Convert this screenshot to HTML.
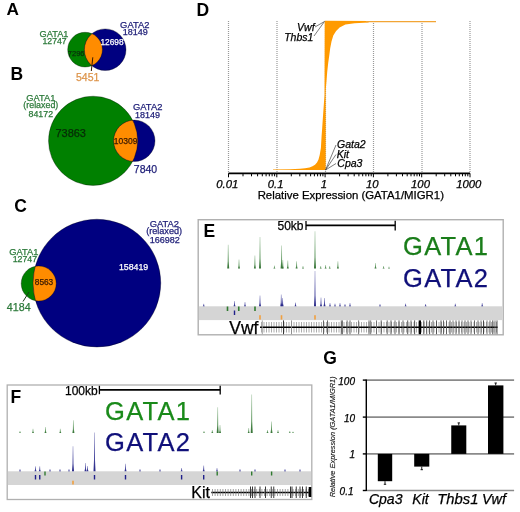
<!DOCTYPE html>
<html><head><meta charset="utf-8"><style>
html,body{margin:0;padding:0;background:#fff;}
svg{display:block;font-family:"Liberation Sans", sans-serif;will-change:transform;filter:blur(0.3px);}
</style></head><body>
<svg width="520" height="512" viewBox="0 0 520 512">
<rect width="520" height="512" fill="#fff"/>
<text x="6.6" y="15.1" font-size="17.2" fill="#000" text-anchor="start" font-weight="bold" font-style="normal" >A</text>
<text x="54.0" y="36.9" font-size="9.2" fill="#2c7a3a" text-anchor="middle" font-weight="normal" font-style="normal" stroke="#2c7a3a" stroke-width="0.25" >GATA1</text>
<text x="54.6" y="44.3" font-size="8.7" fill="#2c7a3a" text-anchor="middle" font-weight="normal" font-style="normal" stroke="#2c7a3a" stroke-width="0.25" >12747</text>
<text x="134.8" y="27.6" font-size="9.4" fill="#22227a" text-anchor="middle" font-weight="normal" font-style="normal" stroke="#22227a" stroke-width="0.25" >GATA2</text>
<text x="135.2" y="34.6" font-size="9" fill="#22227a" text-anchor="middle" font-weight="normal" font-style="normal" stroke="#22227a" stroke-width="0.25" >18149</text>
<defs>
<clipPath id="cA"><circle cx="85.05" cy="49.65" r="17.35"/></clipPath>
<clipPath id="cB"><circle cx="93.1" cy="140.8" r="44.6"/></clipPath>
<clipPath id="cC"><circle cx="38.7" cy="283.5" r="17.5"/></clipPath>
</defs>
<circle cx="85.05" cy="49.65" r="17.35" fill="#008000" />
<text x="76.2" y="55.6" font-size="7.5" fill="#0a300a" text-anchor="middle" font-weight="normal" font-style="normal" stroke="#0a300a" stroke-width="0.25" >7296</text>
<circle cx="105.2" cy="49.7" r="20.8" fill="#000080" />
<circle cx="105.2" cy="49.7" r="20.8" fill="#ff8c00" clip-path="url(#cA)"/>
<circle cx="85.05" cy="49.65" r="17.35" fill="none" stroke="#000" stroke-opacity="0.4" stroke-width="0.8"/>
<circle cx="105.2" cy="49.7" r="20.8" fill="none" stroke="#000" stroke-opacity="0.4" stroke-width="0.8"/>
<text x="112" y="45.2" font-size="8.3" fill="#fff" text-anchor="middle" font-weight="normal" font-style="normal" stroke="#fff" stroke-width="0.25" >12698</text>
<line x1="92.8" y1="57.3" x2="91.3" y2="71" stroke="#3a1a00" stroke-width="1"/>
<text x="87.7" y="80.6" font-size="10.5" fill="#dd944a" text-anchor="middle" font-weight="normal" font-style="normal" stroke="#dd944a" stroke-width="0.25" >5451</text>
<text x="10.6" y="80.4" font-size="17.5" fill="#000" text-anchor="start" font-weight="bold" font-style="normal" >B</text>
<text x="40.8" y="100.6" font-size="9.3" fill="#2c7a3a" text-anchor="middle" font-weight="normal" font-style="normal" stroke="#2c7a3a" stroke-width="0.25" >GATA1</text>
<text x="40.8" y="108.4" font-size="8.9" fill="#2c7a3a" text-anchor="middle" font-weight="normal" font-style="normal" stroke="#2c7a3a" stroke-width="0.25" >(relaxed)</text>
<text x="40.8" y="117.3" font-size="8.8" fill="#2c7a3a" text-anchor="middle" font-weight="normal" font-style="normal" stroke="#2c7a3a" stroke-width="0.25" >84172</text>
<text x="147.7" y="110.4" font-size="9.4" fill="#22227a" text-anchor="middle" font-weight="normal" font-style="normal" stroke="#22227a" stroke-width="0.25" >GATA2</text>
<text x="147.6" y="117.6" font-size="9" fill="#22227a" text-anchor="middle" font-weight="normal" font-style="normal" stroke="#22227a" stroke-width="0.25" >18149</text>
<circle cx="93.1" cy="140.8" r="44.6" fill="#008000" />
<text x="70.7" y="136.9" font-size="11" fill="#062a06" text-anchor="middle" font-weight="normal" font-style="normal" stroke="#062a06" stroke-width="0.25" >73863</text>
<circle cx="134.3" cy="140.8" r="20.7" fill="#000080" />
<circle cx="134.3" cy="140.8" r="20.7" fill="#ff8c00" clip-path="url(#cB)"/>
<circle cx="93.1" cy="140.8" r="44.6" fill="none" stroke="#000" stroke-opacity="0.4" stroke-width="0.8"/>
<circle cx="134.3" cy="140.8" r="20.7" fill="none" stroke="#000" stroke-opacity="0.4" stroke-width="0.8"/>
<text x="125.6" y="144" font-size="8.5" fill="#3a1a00" text-anchor="middle" font-weight="normal" font-style="normal" stroke="#3a1a00" stroke-width="0.25" >10309</text>
<text x="145.5" y="173" font-size="10.5" fill="#22227a" text-anchor="middle" font-weight="normal" font-style="normal" stroke="#22227a" stroke-width="0.25" >7840</text>
<text x="14.2" y="212.3" font-size="17.5" fill="#000" text-anchor="start" font-weight="bold" font-style="normal" >C</text>
<text x="23.9" y="254.8" font-size="9.3" fill="#2c7a3a" text-anchor="middle" font-weight="normal" font-style="normal" stroke="#2c7a3a" stroke-width="0.25" >GATA1</text>
<text x="24.9" y="262.3" font-size="8.8" fill="#2c7a3a" text-anchor="middle" font-weight="normal" font-style="normal" stroke="#2c7a3a" stroke-width="0.25" >12747</text>
<text x="164.4" y="226.6" font-size="9.4" fill="#22227a" text-anchor="middle" font-weight="normal" font-style="normal" stroke="#22227a" stroke-width="0.25" >GATA2</text>
<text x="164.1" y="234.4" font-size="9.1" fill="#22227a" text-anchor="middle" font-weight="normal" font-style="normal" stroke="#22227a" stroke-width="0.25" >(relaxed)</text>
<text x="164.8" y="243.1" font-size="9" fill="#22227a" text-anchor="middle" font-weight="normal" font-style="normal" stroke="#22227a" stroke-width="0.25" >166982</text>
<circle cx="38.7" cy="283.5" r="17.5" fill="#008000" />
<circle cx="96.9" cy="283.1" r="63.9" fill="#000080" />
<circle cx="96.9" cy="283.1" r="63.9" fill="#ff8c00" clip-path="url(#cC)"/>
<circle cx="38.7" cy="283.5" r="17.5" fill="none" stroke="#000" stroke-opacity="0.4" stroke-width="0.8"/>
<circle cx="96.9" cy="283.1" r="63.9" fill="none" stroke="#000" stroke-opacity="0.4" stroke-width="0.8"/>
<text x="133.6" y="270.2" font-size="8.8" fill="#fff" text-anchor="middle" font-weight="normal" font-style="normal" stroke="#fff" stroke-width="0.25" >158419</text>
<text x="44" y="285" font-size="8.3" fill="#3a1a00" text-anchor="middle" font-weight="normal" font-style="normal" stroke="#3a1a00" stroke-width="0.25" >8563</text>
<line x1="29" y1="292" x2="23" y2="301.5" stroke="#1a3a1a" stroke-width="1"/>
<text x="18.7" y="311.4" font-size="10.7" fill="#2c7a3a" text-anchor="middle" font-weight="normal" font-style="normal" stroke="#2c7a3a" stroke-width="0.25" >4184</text>
<text x="196.6" y="16.3" font-size="17.5" fill="#000" text-anchor="start" font-weight="bold" font-style="normal" >D</text>
<line x1="228.5" y1="21" x2="228.5" y2="172" stroke="#999" stroke-width="1.2" stroke-dasharray="1 1"/>
<line x1="277.0" y1="21" x2="277.0" y2="172" stroke="#999" stroke-width="1.2" stroke-dasharray="1 1"/>
<line x1="325.5" y1="21" x2="325.5" y2="172" stroke="#999" stroke-width="1.2" stroke-dasharray="1 1"/>
<line x1="373.5" y1="21" x2="373.5" y2="172" stroke="#999" stroke-width="1.2" stroke-dasharray="1 1"/>
<line x1="422.0" y1="21" x2="422.0" y2="172" stroke="#999" stroke-width="1.2" stroke-dasharray="1 1"/>
<line x1="470.0" y1="21" x2="470.0" y2="172" stroke="#999" stroke-width="1.2" stroke-dasharray="1 1"/>
<path d="M370.0,20.9 L368.4,22.4 L354.6,23.2 L345.4,24.6 L339.6,27.5 L336.1,31.0 L333.3,35.6 L331.5,41.4 L330.2,48.3 L329.3,55.2 L328.2,63.0 L327.2,72.0 L326.5,81.0 L325.8,89.0 L325.7,95.0 L325.7,169.9 L273.0,169.9 L273.0,169.5 L290.0,169.3 L300.0,168.8 L305.0,168.2 L309.5,167.5 L312.5,166.3 L315.0,164.8 L317.0,162.5 L318.5,159.5 L319.7,155.0 L320.9,148.0 L321.6,136.0 L322.2,128.0 L323.0,116.0 L323.8,104.7 L324.5,95.0 L324.7,20.8 Z" fill="#ff9a00"/>
<line x1="366" y1="21.6" x2="436" y2="21.6" stroke="#f2a535" stroke-width="1.1"/>
<line x1="228.5" y1="173.3" x2="470.0" y2="173.3" stroke="#000" stroke-width="1.8"/>
<line x1="228.5" y1="173.3" x2="228.5" y2="177.3" stroke="#000" stroke-width="1"/>
<line x1="243.0" y1="173.3" x2="243.0" y2="176.3" stroke="#000" stroke-width="1"/>
<line x1="251.5" y1="173.3" x2="251.5" y2="176.3" stroke="#000" stroke-width="1"/>
<line x1="257.6" y1="173.3" x2="257.6" y2="176.3" stroke="#000" stroke-width="1"/>
<line x1="262.3" y1="173.3" x2="262.3" y2="176.3" stroke="#000" stroke-width="1"/>
<line x1="266.1" y1="173.3" x2="266.1" y2="176.3" stroke="#000" stroke-width="1"/>
<line x1="269.3" y1="173.3" x2="269.3" y2="176.3" stroke="#000" stroke-width="1"/>
<line x1="272.1" y1="173.3" x2="272.1" y2="176.3" stroke="#000" stroke-width="1"/>
<line x1="274.6" y1="173.3" x2="274.6" y2="176.3" stroke="#000" stroke-width="1"/>
<line x1="276.8" y1="173.3" x2="276.8" y2="177.3" stroke="#000" stroke-width="1"/>
<line x1="291.3" y1="173.3" x2="291.3" y2="176.3" stroke="#000" stroke-width="1"/>
<line x1="299.8" y1="173.3" x2="299.8" y2="176.3" stroke="#000" stroke-width="1"/>
<line x1="305.9" y1="173.3" x2="305.9" y2="176.3" stroke="#000" stroke-width="1"/>
<line x1="310.6" y1="173.3" x2="310.6" y2="176.3" stroke="#000" stroke-width="1"/>
<line x1="314.4" y1="173.3" x2="314.4" y2="176.3" stroke="#000" stroke-width="1"/>
<line x1="317.6" y1="173.3" x2="317.6" y2="176.3" stroke="#000" stroke-width="1"/>
<line x1="320.4" y1="173.3" x2="320.4" y2="176.3" stroke="#000" stroke-width="1"/>
<line x1="322.9" y1="173.3" x2="322.9" y2="176.3" stroke="#000" stroke-width="1"/>
<line x1="325.1" y1="173.3" x2="325.1" y2="177.3" stroke="#000" stroke-width="1"/>
<line x1="339.6" y1="173.3" x2="339.6" y2="176.3" stroke="#000" stroke-width="1"/>
<line x1="348.1" y1="173.3" x2="348.1" y2="176.3" stroke="#000" stroke-width="1"/>
<line x1="354.2" y1="173.3" x2="354.2" y2="176.3" stroke="#000" stroke-width="1"/>
<line x1="358.9" y1="173.3" x2="358.9" y2="176.3" stroke="#000" stroke-width="1"/>
<line x1="362.7" y1="173.3" x2="362.7" y2="176.3" stroke="#000" stroke-width="1"/>
<line x1="365.9" y1="173.3" x2="365.9" y2="176.3" stroke="#000" stroke-width="1"/>
<line x1="368.7" y1="173.3" x2="368.7" y2="176.3" stroke="#000" stroke-width="1"/>
<line x1="371.2" y1="173.3" x2="371.2" y2="176.3" stroke="#000" stroke-width="1"/>
<line x1="373.4" y1="173.3" x2="373.4" y2="177.3" stroke="#000" stroke-width="1"/>
<line x1="387.9" y1="173.3" x2="387.9" y2="176.3" stroke="#000" stroke-width="1"/>
<line x1="396.4" y1="173.3" x2="396.4" y2="176.3" stroke="#000" stroke-width="1"/>
<line x1="402.5" y1="173.3" x2="402.5" y2="176.3" stroke="#000" stroke-width="1"/>
<line x1="407.2" y1="173.3" x2="407.2" y2="176.3" stroke="#000" stroke-width="1"/>
<line x1="411.0" y1="173.3" x2="411.0" y2="176.3" stroke="#000" stroke-width="1"/>
<line x1="414.2" y1="173.3" x2="414.2" y2="176.3" stroke="#000" stroke-width="1"/>
<line x1="417.0" y1="173.3" x2="417.0" y2="176.3" stroke="#000" stroke-width="1"/>
<line x1="419.5" y1="173.3" x2="419.5" y2="176.3" stroke="#000" stroke-width="1"/>
<line x1="421.7" y1="173.3" x2="421.7" y2="177.3" stroke="#000" stroke-width="1"/>
<line x1="436.2" y1="173.3" x2="436.2" y2="176.3" stroke="#000" stroke-width="1"/>
<line x1="444.7" y1="173.3" x2="444.7" y2="176.3" stroke="#000" stroke-width="1"/>
<line x1="450.8" y1="173.3" x2="450.8" y2="176.3" stroke="#000" stroke-width="1"/>
<line x1="455.5" y1="173.3" x2="455.5" y2="176.3" stroke="#000" stroke-width="1"/>
<line x1="459.3" y1="173.3" x2="459.3" y2="176.3" stroke="#000" stroke-width="1"/>
<line x1="462.5" y1="173.3" x2="462.5" y2="176.3" stroke="#000" stroke-width="1"/>
<line x1="465.3" y1="173.3" x2="465.3" y2="176.3" stroke="#000" stroke-width="1"/>
<line x1="467.8" y1="173.3" x2="467.8" y2="176.3" stroke="#000" stroke-width="1"/>
<line x1="470.0" y1="173.3" x2="470.0" y2="177.3" stroke="#000" stroke-width="1"/>
<text x="227.3" y="187.6" font-size="11.3" fill="#000" text-anchor="middle" font-weight="normal" font-style="italic" stroke="#000" stroke-width="0.25" >0.01</text>
<text x="275.6" y="187.6" font-size="11.3" fill="#000" text-anchor="middle" font-weight="normal" font-style="italic" stroke="#000" stroke-width="0.25" >0.1</text>
<text x="323.9" y="187.6" font-size="11.3" fill="#000" text-anchor="middle" font-weight="normal" font-style="italic" stroke="#000" stroke-width="0.25" >1</text>
<text x="372.2" y="187.6" font-size="11.3" fill="#000" text-anchor="middle" font-weight="normal" font-style="italic" stroke="#000" stroke-width="0.25" >10</text>
<text x="420.5" y="187.6" font-size="11.3" fill="#000" text-anchor="middle" font-weight="normal" font-style="italic" stroke="#000" stroke-width="0.25" >100</text>
<text x="468.8" y="187.6" font-size="11.3" fill="#000" text-anchor="middle" font-weight="normal" font-style="italic" stroke="#000" stroke-width="0.25" >1000</text>
<text x="350.8" y="199.1" font-size="11.4" fill="#000" text-anchor="middle" font-weight="normal" font-style="normal" stroke="#000" stroke-width="0.25" >Relative Expression (GATA1/MIGR1)</text>
<text x="314.6" y="30.8" font-size="10.5" fill="#000" text-anchor="end" font-weight="normal" font-style="italic" stroke="#000" stroke-width="0.25" >Vwf</text>
<text x="313.4" y="40.9" font-size="10.5" fill="#000" text-anchor="end" font-weight="normal" font-style="italic" stroke="#000" stroke-width="0.25" >Thbs1</text>
<line x1="315" y1="27" x2="324.5" y2="21.5" stroke="#444" stroke-width="0.7"/>
<line x1="314" y1="36" x2="324.5" y2="21.5" stroke="#444" stroke-width="0.7"/>
<text x="337" y="148.3" font-size="10.5" fill="#000" text-anchor="start" font-weight="normal" font-style="italic" stroke="#000" stroke-width="0.25" >Gata2</text>
<text x="336.7" y="157.5" font-size="10.5" fill="#000" text-anchor="start" font-weight="normal" font-style="italic" stroke="#000" stroke-width="0.25" >Kit</text>
<text x="337.3" y="166.7" font-size="10.5" fill="#000" text-anchor="start" font-weight="normal" font-style="italic" stroke="#000" stroke-width="0.25" >Cpa3</text>
<line x1="325.5" y1="170" x2="336" y2="145" stroke="#444" stroke-width="0.7"/>
<line x1="325.5" y1="170" x2="336" y2="154.5" stroke="#444" stroke-width="0.7"/>
<line x1="325.5" y1="170" x2="336" y2="163.5" stroke="#444" stroke-width="0.7"/>
<defs><linearGradient id="gG" x1="0" y1="0" x2="0" y2="1"><stop offset="0" stop-color="#2f7a2f" stop-opacity="0.35"/><stop offset="0.6" stop-color="#2f7a2f" stop-opacity="0.75"/><stop offset="1" stop-color="#2a6a2a" stop-opacity="0.95"/></linearGradient><linearGradient id="gB" x1="0" y1="0" x2="0" y2="1"><stop offset="0" stop-color="#20208a" stop-opacity="0.4"/><stop offset="0.6" stop-color="#20208a" stop-opacity="0.8"/><stop offset="1" stop-color="#1a1a80" stop-opacity="0.95"/></linearGradient></defs>
<rect x="198.2" y="219.7" width="305" height="115.1" fill="none" stroke="#b0b0b0" stroke-width="1.4"/>
<rect x="198.9" y="306.3" width="303.3" height="13.8" fill="#d5d5d5"/>
<text x="203.5" y="237.1" font-size="17.5" fill="#000" text-anchor="start" font-weight="bold" font-style="normal" >E</text>
<text x="277.5" y="230.1" font-size="12" fill="#000" text-anchor="start" font-weight="normal" font-style="normal" stroke="#000" stroke-width="0.25" >50kb</text>
<line x1="306" y1="225.4" x2="395.2" y2="225.4" stroke="#000" stroke-width="1.7"/>
<line x1="306" y1="221" x2="306" y2="230" stroke="#000" stroke-width="1.3"/>
<line x1="395.2" y1="220.8" x2="395.2" y2="230.4" stroke="#000" stroke-width="1.3"/>
<text x="403" y="254.7" font-size="25.5" fill="#1a7d1a" text-anchor="start" font-weight="normal" font-style="normal" stroke="#1a7d1a" stroke-width="0.25" letter-spacing="1.3">GATA1</text>
<text x="403" y="287.2" font-size="25.5" fill="#10107a" text-anchor="start" font-weight="normal" font-style="normal" stroke="#10107a" stroke-width="0.25" letter-spacing="1.3">GATA2</text>
<path d="M227.20,268.5 L227.70,261.36 L227.85,244.7 L228.55,244.7 L228.70,261.36 L229.20,268.5 Z" fill="url(#gG)"/>
<path d="M238.00,268.5 L238.50,265.83 L238.65,259.6 L239.35,259.6 L239.50,265.83 L240.00,268.5 Z" fill="url(#gG)"/>
<path d="M253.90,268.5 L254.40,264.63 L254.55,255.6 L255.25,255.6 L255.40,264.63 L255.90,268.5 Z" fill="url(#gG)"/>
<path d="M259.00,268.5 L259.50,259.02 L259.65,236.9 L260.35,236.9 L260.50,259.02 L261.00,268.5 Z" fill="url(#gG)"/>
<path d="M273.40,268.5 L273.90,267.63 L274.05,265.6 L274.75,265.6 L274.90,267.63 L275.40,268.5 Z" fill="url(#gG)"/>
<path d="M280.60,268.5 L281.10,261.63 L281.25,245.6 L281.95,245.6 L282.10,261.63 L282.60,268.5 Z" fill="url(#gG)"/>
<path d="M281.80,268.5 L282.30,265.95 L282.45,260 L283.15,260 L283.30,265.95 L283.80,268.5 Z" fill="url(#gG)"/>
<path d="M286.80,268.5 L287.30,266.13 L287.45,260.6 L288.15,260.6 L288.30,266.13 L288.80,268.5 Z" fill="url(#gG)"/>
<path d="M295.60,268.5 L296.10,266.34 L296.25,261.3 L296.95,261.3 L297.10,266.34 L297.60,268.5 Z" fill="url(#gG)"/>
<path d="M302.00,268.5 L302.50,267.75 L302.65,266 L303.35,266 L303.50,267.75 L304.00,268.5 Z" fill="url(#gG)"/>
<path d="M314.00,268.5 L314.50,257.34 L314.65,231.3 L315.35,231.3 L315.50,257.34 L316.00,268.5 Z" fill="url(#gG)"/>
<path d="M319.70,268.5 L320.20,267.75 L320.35,266 L321.05,266 L321.20,267.75 L321.70,268.5 Z" fill="url(#gG)"/>
<path d="M324.60,268.5 L325.10,267.45 L325.25,265 L325.95,265 L326.10,267.45 L326.60,268.5 Z" fill="url(#gG)"/>
<path d="M328.70,268.5 L329.20,267.75 L329.35,266 L330.05,266 L330.20,267.75 L330.70,268.5 Z" fill="url(#gG)"/>
<path d="M336.90,268.5 L337.40,266.34 L337.55,261.3 L338.25,261.3 L338.40,266.34 L338.90,268.5 Z" fill="url(#gG)"/>
<path d="M374.50,268.5 L375.00,266.85 L375.15,263 L375.85,263 L376.00,266.85 L376.50,268.5 Z" fill="url(#gG)"/>
<path d="M382.60,268.5 L383.10,267.75 L383.25,266 L383.95,266 L384.10,267.75 L384.60,268.5 Z" fill="url(#gG)"/>
<path d="M388.00,268.5 L388.50,267.90 L388.65,266.5 L389.35,266.5 L389.50,267.90 L390.00,268.5 Z" fill="url(#gG)"/>
<path d="M202.75,306.3 L203.25,305.54 L203.40,303.75 L204.10,303.75 L204.25,305.54 L204.75,306.3 Z" fill="url(#gB)"/>
<path d="M233.50,306.3 L234.00,304.71 L234.15,301 L234.85,301 L235.00,304.71 L235.50,306.3 Z" fill="url(#gB)"/>
<path d="M244.00,306.3 L244.50,305.01 L244.65,302 L245.35,302 L245.50,305.01 L246.00,306.3 Z" fill="url(#gB)"/>
<path d="M259.00,306.3 L259.50,303.06 L259.65,295.5 L260.35,295.5 L260.50,303.06 L261.00,306.3 Z" fill="url(#gB)"/>
<path d="M280.25,306.3 L280.75,302.76 L280.90,294.5 L281.60,294.5 L281.75,302.76 L282.25,306.3 Z" fill="url(#gB)"/>
<path d="M281.60,306.3 L282.10,303.81 L282.25,298 L282.95,298 L283.10,303.81 L283.60,306.3 Z" fill="url(#gB)"/>
<path d="M294.50,306.3 L295.00,305.16 L295.15,302.5 L295.85,302.5 L296.00,305.16 L296.50,306.3 Z" fill="url(#gB)"/>
<path d="M314.00,306.3 L314.50,295.71 L314.65,271 L315.35,271 L315.50,295.71 L316.00,306.3 Z" fill="url(#gB)"/>
<path d="M320.00,306.3 L320.50,303.66 L320.65,297.5 L321.35,297.5 L321.50,303.66 L322.00,306.3 Z" fill="url(#gB)"/>
<path d="M323.50,306.3 L324.00,303.81 L324.15,298 L324.85,298 L325.00,303.81 L325.50,306.3 Z" fill="url(#gB)"/>
<path d="M329.00,306.3 L329.50,305.31 L329.65,303 L330.35,303 L330.50,305.31 L331.00,306.3 Z" fill="url(#gB)"/>
<path d="M334.00,306.3 L334.50,305.46 L334.65,303.5 L335.35,303.5 L335.50,305.46 L336.00,306.3 Z" fill="url(#gB)"/>
<path d="M339.00,306.3 L339.50,305.31 L339.65,303 L340.35,303 L340.50,305.31 L341.00,306.3 Z" fill="url(#gB)"/>
<path d="M344.00,306.3 L344.50,305.61 L344.65,304 L345.35,304 L345.50,305.61 L346.00,306.3 Z" fill="url(#gB)"/>
<path d="M349.00,306.3 L349.50,305.31 L349.65,303 L350.35,303 L350.50,305.31 L351.00,306.3 Z" fill="url(#gB)"/>
<path d="M379.00,306.3 L379.50,305.61 L379.65,304 L380.35,304 L380.50,305.61 L381.00,306.3 Z" fill="url(#gB)"/>
<path d="M404.60,306.3 L405.10,305.46 L405.25,303.5 L405.95,303.5 L406.10,305.46 L406.60,306.3 Z" fill="url(#gB)"/>
<path d="M424.60,306.3 L425.10,305.61 L425.25,304 L425.95,304 L426.10,305.61 L426.60,306.3 Z" fill="url(#gB)"/>
<path d="M454.30,306.3 L454.80,305.46 L454.95,303.5 L455.65,303.5 L455.80,305.46 L456.30,306.3 Z" fill="url(#gB)"/>
<path d="M481.20,306.3 L481.70,305.31 L481.85,303 L482.55,303 L482.70,305.31 L483.20,306.3 Z" fill="url(#gB)"/>
<rect x="226.70" y="306.5" width="1.6" height="4.5" fill="#2f7a2f"/>
<rect x="237.95" y="306.5" width="1.6" height="4.5" fill="#2f7a2f"/>
<rect x="254.20" y="306.5" width="1.6" height="4.5" fill="#2f7a2f"/>
<rect x="233.80" y="310.5" width="1.4" height="4.5" fill="#20208a"/>
<rect x="259.20" y="315.2" width="1.6" height="4.400000000000034" fill="#f0a040"/>
<rect x="280.70" y="315.2" width="1.6" height="4.400000000000034" fill="#f0a040"/>
<rect x="314.20" y="315.2" width="1.6" height="4.400000000000034" fill="#f0a040"/>
<text x="229.3" y="333.7" font-size="17.5" fill="#000" text-anchor="start" font-weight="normal" font-style="normal" stroke="#000" stroke-width="0.25" >Vwf</text>
<line x1="261.5" y1="322" x2="261.5" y2="332.5" stroke="#8a8a8a" stroke-width="0.7"/>
<line x1="264.0" y1="322" x2="264.0" y2="332.5" stroke="#8a8a8a" stroke-width="0.7"/>
<line x1="266.5" y1="322" x2="266.5" y2="332.5" stroke="#8a8a8a" stroke-width="0.7"/>
<line x1="269.0" y1="322" x2="269.0" y2="332.5" stroke="#8a8a8a" stroke-width="0.7"/>
<line x1="271.5" y1="322" x2="271.5" y2="332.5" stroke="#8a8a8a" stroke-width="0.7"/>
<line x1="274.0" y1="322" x2="274.0" y2="332.5" stroke="#8a8a8a" stroke-width="0.7"/>
<line x1="276.5" y1="322" x2="276.5" y2="332.5" stroke="#8a8a8a" stroke-width="0.7"/>
<line x1="279.0" y1="322" x2="279.0" y2="332.5" stroke="#8a8a8a" stroke-width="0.7"/>
<line x1="281.5" y1="322" x2="281.5" y2="332.5" stroke="#8a8a8a" stroke-width="0.7"/>
<line x1="284.0" y1="322" x2="284.0" y2="332.5" stroke="#8a8a8a" stroke-width="0.7"/>
<line x1="286.5" y1="322" x2="286.5" y2="332.5" stroke="#8a8a8a" stroke-width="0.7"/>
<line x1="289.0" y1="322" x2="289.0" y2="332.5" stroke="#8a8a8a" stroke-width="0.7"/>
<line x1="291.5" y1="322" x2="291.5" y2="332.5" stroke="#8a8a8a" stroke-width="0.7"/>
<line x1="294.0" y1="322" x2="294.0" y2="332.5" stroke="#8a8a8a" stroke-width="0.7"/>
<line x1="296.5" y1="322" x2="296.5" y2="332.5" stroke="#8a8a8a" stroke-width="0.7"/>
<line x1="299.0" y1="322" x2="299.0" y2="332.5" stroke="#8a8a8a" stroke-width="0.7"/>
<line x1="301.5" y1="322" x2="301.5" y2="332.5" stroke="#8a8a8a" stroke-width="0.7"/>
<line x1="304.0" y1="322" x2="304.0" y2="332.5" stroke="#8a8a8a" stroke-width="0.7"/>
<line x1="306.5" y1="322" x2="306.5" y2="332.5" stroke="#8a8a8a" stroke-width="0.7"/>
<line x1="309.0" y1="322" x2="309.0" y2="332.5" stroke="#8a8a8a" stroke-width="0.7"/>
<line x1="311.5" y1="322" x2="311.5" y2="332.5" stroke="#8a8a8a" stroke-width="0.7"/>
<line x1="314.0" y1="322" x2="314.0" y2="332.5" stroke="#8a8a8a" stroke-width="0.7"/>
<line x1="316.5" y1="322" x2="316.5" y2="332.5" stroke="#8a8a8a" stroke-width="0.7"/>
<line x1="319.0" y1="322" x2="319.0" y2="332.5" stroke="#8a8a8a" stroke-width="0.7"/>
<line x1="321.5" y1="322" x2="321.5" y2="332.5" stroke="#8a8a8a" stroke-width="0.7"/>
<line x1="324.0" y1="322" x2="324.0" y2="332.5" stroke="#8a8a8a" stroke-width="0.7"/>
<line x1="326.5" y1="322" x2="326.5" y2="332.5" stroke="#8a8a8a" stroke-width="0.7"/>
<line x1="329.0" y1="322" x2="329.0" y2="332.5" stroke="#8a8a8a" stroke-width="0.7"/>
<line x1="331.5" y1="322" x2="331.5" y2="332.5" stroke="#8a8a8a" stroke-width="0.7"/>
<line x1="334.0" y1="322" x2="334.0" y2="332.5" stroke="#8a8a8a" stroke-width="0.7"/>
<line x1="336.5" y1="322" x2="336.5" y2="332.5" stroke="#8a8a8a" stroke-width="0.7"/>
<line x1="339.0" y1="322" x2="339.0" y2="332.5" stroke="#8a8a8a" stroke-width="0.7"/>
<line x1="341.5" y1="322" x2="341.5" y2="332.5" stroke="#8a8a8a" stroke-width="0.7"/>
<line x1="344.0" y1="322" x2="344.0" y2="332.5" stroke="#8a8a8a" stroke-width="0.7"/>
<line x1="346.5" y1="322" x2="346.5" y2="332.5" stroke="#8a8a8a" stroke-width="0.7"/>
<line x1="349.0" y1="322" x2="349.0" y2="332.5" stroke="#8a8a8a" stroke-width="0.7"/>
<line x1="351.5" y1="322" x2="351.5" y2="332.5" stroke="#8a8a8a" stroke-width="0.7"/>
<line x1="354.0" y1="322" x2="354.0" y2="332.5" stroke="#8a8a8a" stroke-width="0.7"/>
<line x1="356.5" y1="322" x2="356.5" y2="332.5" stroke="#8a8a8a" stroke-width="0.7"/>
<line x1="359.0" y1="322" x2="359.0" y2="332.5" stroke="#8a8a8a" stroke-width="0.7"/>
<line x1="361.5" y1="322" x2="361.5" y2="332.5" stroke="#8a8a8a" stroke-width="0.7"/>
<line x1="364.0" y1="322" x2="364.0" y2="332.5" stroke="#8a8a8a" stroke-width="0.7"/>
<line x1="366.5" y1="322" x2="366.5" y2="332.5" stroke="#8a8a8a" stroke-width="0.7"/>
<line x1="369.0" y1="322" x2="369.0" y2="332.5" stroke="#8a8a8a" stroke-width="0.7"/>
<line x1="371.5" y1="322" x2="371.5" y2="332.5" stroke="#8a8a8a" stroke-width="0.7"/>
<line x1="374.0" y1="322" x2="374.0" y2="332.5" stroke="#8a8a8a" stroke-width="0.7"/>
<line x1="376.5" y1="322" x2="376.5" y2="332.5" stroke="#8a8a8a" stroke-width="0.7"/>
<line x1="379.0" y1="322" x2="379.0" y2="332.5" stroke="#8a8a8a" stroke-width="0.7"/>
<line x1="381.5" y1="322" x2="381.5" y2="332.5" stroke="#8a8a8a" stroke-width="0.7"/>
<line x1="384.0" y1="322" x2="384.0" y2="332.5" stroke="#8a8a8a" stroke-width="0.7"/>
<line x1="386.5" y1="322" x2="386.5" y2="332.5" stroke="#8a8a8a" stroke-width="0.7"/>
<line x1="389.0" y1="322" x2="389.0" y2="332.5" stroke="#8a8a8a" stroke-width="0.7"/>
<line x1="391.5" y1="322" x2="391.5" y2="332.5" stroke="#8a8a8a" stroke-width="0.7"/>
<line x1="394.0" y1="322" x2="394.0" y2="332.5" stroke="#8a8a8a" stroke-width="0.7"/>
<line x1="396.5" y1="322" x2="396.5" y2="332.5" stroke="#8a8a8a" stroke-width="0.7"/>
<line x1="399.0" y1="322" x2="399.0" y2="332.5" stroke="#8a8a8a" stroke-width="0.7"/>
<line x1="401.5" y1="322" x2="401.5" y2="332.5" stroke="#8a8a8a" stroke-width="0.7"/>
<line x1="404.0" y1="322" x2="404.0" y2="332.5" stroke="#8a8a8a" stroke-width="0.7"/>
<line x1="406.5" y1="322" x2="406.5" y2="332.5" stroke="#8a8a8a" stroke-width="0.7"/>
<line x1="409.0" y1="322" x2="409.0" y2="332.5" stroke="#8a8a8a" stroke-width="0.7"/>
<line x1="411.5" y1="322" x2="411.5" y2="332.5" stroke="#8a8a8a" stroke-width="0.7"/>
<line x1="414.0" y1="322" x2="414.0" y2="332.5" stroke="#8a8a8a" stroke-width="0.7"/>
<line x1="416.5" y1="322" x2="416.5" y2="332.5" stroke="#8a8a8a" stroke-width="0.7"/>
<line x1="419.0" y1="322" x2="419.0" y2="332.5" stroke="#8a8a8a" stroke-width="0.7"/>
<line x1="421.5" y1="322" x2="421.5" y2="332.5" stroke="#8a8a8a" stroke-width="0.7"/>
<line x1="424.0" y1="322" x2="424.0" y2="332.5" stroke="#8a8a8a" stroke-width="0.7"/>
<line x1="426.5" y1="322" x2="426.5" y2="332.5" stroke="#8a8a8a" stroke-width="0.7"/>
<line x1="429.0" y1="322" x2="429.0" y2="332.5" stroke="#8a8a8a" stroke-width="0.7"/>
<line x1="431.5" y1="322" x2="431.5" y2="332.5" stroke="#8a8a8a" stroke-width="0.7"/>
<line x1="434.0" y1="322" x2="434.0" y2="332.5" stroke="#8a8a8a" stroke-width="0.7"/>
<line x1="436.5" y1="322" x2="436.5" y2="332.5" stroke="#8a8a8a" stroke-width="0.7"/>
<line x1="439.0" y1="322" x2="439.0" y2="332.5" stroke="#8a8a8a" stroke-width="0.7"/>
<line x1="441.5" y1="322" x2="441.5" y2="332.5" stroke="#8a8a8a" stroke-width="0.7"/>
<line x1="444.0" y1="322" x2="444.0" y2="332.5" stroke="#8a8a8a" stroke-width="0.7"/>
<line x1="446.5" y1="322" x2="446.5" y2="332.5" stroke="#8a8a8a" stroke-width="0.7"/>
<line x1="449.0" y1="322" x2="449.0" y2="332.5" stroke="#8a8a8a" stroke-width="0.7"/>
<line x1="451.5" y1="322" x2="451.5" y2="332.5" stroke="#8a8a8a" stroke-width="0.7"/>
<line x1="454.0" y1="322" x2="454.0" y2="332.5" stroke="#8a8a8a" stroke-width="0.7"/>
<line x1="456.5" y1="322" x2="456.5" y2="332.5" stroke="#8a8a8a" stroke-width="0.7"/>
<line x1="459.0" y1="322" x2="459.0" y2="332.5" stroke="#8a8a8a" stroke-width="0.7"/>
<line x1="461.5" y1="322" x2="461.5" y2="332.5" stroke="#8a8a8a" stroke-width="0.7"/>
<line x1="464.0" y1="322" x2="464.0" y2="332.5" stroke="#8a8a8a" stroke-width="0.7"/>
<line x1="466.5" y1="322" x2="466.5" y2="332.5" stroke="#8a8a8a" stroke-width="0.7"/>
<line x1="469.0" y1="322" x2="469.0" y2="332.5" stroke="#8a8a8a" stroke-width="0.7"/>
<line x1="471.5" y1="322" x2="471.5" y2="332.5" stroke="#8a8a8a" stroke-width="0.7"/>
<line x1="474.0" y1="322" x2="474.0" y2="332.5" stroke="#8a8a8a" stroke-width="0.7"/>
<line x1="476.5" y1="322" x2="476.5" y2="332.5" stroke="#8a8a8a" stroke-width="0.7"/>
<line x1="479.0" y1="322" x2="479.0" y2="332.5" stroke="#8a8a8a" stroke-width="0.7"/>
<line x1="481.5" y1="322" x2="481.5" y2="332.5" stroke="#8a8a8a" stroke-width="0.7"/>
<line x1="484.0" y1="322" x2="484.0" y2="332.5" stroke="#8a8a8a" stroke-width="0.7"/>
<line x1="486.5" y1="322" x2="486.5" y2="332.5" stroke="#8a8a8a" stroke-width="0.7"/>
<line x1="489.0" y1="322" x2="489.0" y2="332.5" stroke="#8a8a8a" stroke-width="0.7"/>
<line x1="491.5" y1="322" x2="491.5" y2="332.5" stroke="#8a8a8a" stroke-width="0.7"/>
<line x1="494.0" y1="322" x2="494.0" y2="332.5" stroke="#8a8a8a" stroke-width="0.7"/>
<line x1="496.5" y1="322" x2="496.5" y2="332.5" stroke="#8a8a8a" stroke-width="0.7"/>
<line x1="260" y1="327.2" x2="497.6" y2="327.2" stroke="#000" stroke-width="1.5"/>
<line x1="262.3" y1="320.4" x2="262.3" y2="334.2" stroke="#999" stroke-width="0.9"/>
<line x1="283.5" y1="320.4" x2="283.5" y2="334.2" stroke="#222" stroke-width="0.9"/>
<line x1="291.5" y1="320.4" x2="291.5" y2="334.2" stroke="#888" stroke-width="0.9"/>
<line x1="323.5" y1="320.4" x2="323.5" y2="334.2" stroke="#555" stroke-width="0.9"/>
<line x1="327.5" y1="320.4" x2="327.5" y2="334.2" stroke="#555" stroke-width="0.9"/>
<line x1="341.3" y1="320.4" x2="341.3" y2="334.2" stroke="#555" stroke-width="0.9"/>
<line x1="342.5" y1="320.4" x2="342.5" y2="334.2" stroke="#666" stroke-width="0.9"/>
<line x1="347.1" y1="320.4" x2="347.1" y2="334.2" stroke="#555" stroke-width="0.9"/>
<line x1="350" y1="320.4" x2="350" y2="334.2" stroke="#555" stroke-width="0.9"/>
<line x1="358.6" y1="320.4" x2="358.6" y2="334.2" stroke="#666" stroke-width="0.9"/>
<line x1="369" y1="320.4" x2="369" y2="334.2" stroke="#555" stroke-width="0.9"/>
<line x1="370.7" y1="320.4" x2="370.7" y2="334.2" stroke="#666" stroke-width="0.9"/>
<line x1="376.5" y1="320.4" x2="376.5" y2="334.2" stroke="#666" stroke-width="0.9"/>
<line x1="381.2" y1="320.4" x2="381.2" y2="334.2" stroke="#444" stroke-width="0.9"/>
<line x1="387.2" y1="320.4" x2="387.2" y2="334.2" stroke="#555" stroke-width="0.9"/>
<line x1="391" y1="320.4" x2="391" y2="334.2" stroke="#444" stroke-width="0.9"/>
<line x1="395" y1="320.4" x2="395" y2="334.2" stroke="#555" stroke-width="0.9"/>
<line x1="399" y1="320.4" x2="399" y2="334.2" stroke="#444" stroke-width="0.9"/>
<line x1="403" y1="320.4" x2="403" y2="334.2" stroke="#555" stroke-width="0.9"/>
<line x1="407.7" y1="320.4" x2="407.7" y2="334.2" stroke="#444" stroke-width="0.9"/>
<line x1="411" y1="320.4" x2="411" y2="334.2" stroke="#555" stroke-width="0.9"/>
<line x1="414.6" y1="320.4" x2="414.6" y2="334.2" stroke="#444" stroke-width="0.9"/>
<line x1="423.8" y1="320.4" x2="423.8" y2="334.2" stroke="#444" stroke-width="0.9"/>
<line x1="426.7" y1="320.4" x2="426.7" y2="334.2" stroke="#555" stroke-width="0.9"/>
<line x1="429.6" y1="320.4" x2="429.6" y2="334.2" stroke="#444" stroke-width="0.9"/>
<line x1="433" y1="320.4" x2="433" y2="334.2" stroke="#555" stroke-width="0.9"/>
<line x1="436.5" y1="320.4" x2="436.5" y2="334.2" stroke="#444" stroke-width="0.9"/>
<line x1="441" y1="320.4" x2="441" y2="334.2" stroke="#444" stroke-width="0.9"/>
<line x1="443.5" y1="320.4" x2="443.5" y2="334.2" stroke="#555" stroke-width="0.9"/>
<line x1="446.5" y1="320.4" x2="446.5" y2="334.2" stroke="#555" stroke-width="0.9"/>
<line x1="450" y1="320.4" x2="450" y2="334.2" stroke="#444" stroke-width="0.9"/>
<line x1="453" y1="320.4" x2="453" y2="334.2" stroke="#666" stroke-width="0.9"/>
<line x1="456" y1="320.4" x2="456" y2="334.2" stroke="#555" stroke-width="0.9"/>
<line x1="459" y1="320.4" x2="459" y2="334.2" stroke="#555" stroke-width="0.9"/>
<line x1="462" y1="320.4" x2="462" y2="334.2" stroke="#666" stroke-width="0.9"/>
<line x1="465" y1="320.4" x2="465" y2="334.2" stroke="#555" stroke-width="0.9"/>
<line x1="468" y1="320.4" x2="468" y2="334.2" stroke="#555" stroke-width="0.9"/>
<line x1="471" y1="320.4" x2="471" y2="334.2" stroke="#666" stroke-width="0.9"/>
<line x1="474.5" y1="320.4" x2="474.5" y2="334.2" stroke="#555" stroke-width="0.9"/>
<line x1="478" y1="320.4" x2="478" y2="334.2" stroke="#555" stroke-width="0.9"/>
<line x1="481" y1="320.4" x2="481" y2="334.2" stroke="#666" stroke-width="0.9"/>
<line x1="483.5" y1="320.4" x2="483.5" y2="334.2" stroke="#333" stroke-width="0.9"/>
<line x1="487" y1="320.4" x2="487" y2="334.2" stroke="#666" stroke-width="0.9"/>
<line x1="490" y1="320.4" x2="490" y2="334.2" stroke="#555" stroke-width="0.9"/>
<line x1="492.8" y1="320.4" x2="492.8" y2="334.2" stroke="#333" stroke-width="0.9"/>
<line x1="495" y1="320.4" x2="495" y2="334.2" stroke="#666" stroke-width="0.9"/>
<line x1="497" y1="320.4" x2="497" y2="334.2" stroke="#444" stroke-width="0.9"/>
<rect x="418.7" y="320.4" width="2.3" height="13.8" fill="#000"/>
<rect x="7.2" y="385" width="304.6" height="114.5" fill="none" stroke="#b0b0b0" stroke-width="1.3"/>
<rect x="7.9" y="471.3" width="303.3" height="13.7" fill="#d5d5d5"/>
<text x="10.6" y="402.6" font-size="17.5" fill="#000" text-anchor="start" font-weight="bold" font-style="normal" >F</text>
<text x="65" y="394.8" font-size="12" fill="#000" text-anchor="start" font-weight="normal" font-style="normal" stroke="#000" stroke-width="0.25" >100kb</text>
<line x1="99.4" y1="389.8" x2="220.2" y2="389.8" stroke="#000" stroke-width="1.7"/>
<line x1="99.4" y1="385.8" x2="99.4" y2="394.2" stroke="#000" stroke-width="1.3"/>
<line x1="220.2" y1="385.8" x2="220.2" y2="394.4" stroke="#000" stroke-width="1.3"/>
<text x="105" y="419.5" font-size="25.5" fill="#1a8a1a" text-anchor="start" font-weight="normal" font-style="normal" stroke="#1a8a1a" stroke-width="0.25" letter-spacing="1.3">GATA1</text>
<text x="105" y="450.5" font-size="25.5" fill="#10107a" text-anchor="start" font-weight="normal" font-style="normal" stroke="#10107a" stroke-width="0.25" letter-spacing="1.3">GATA2</text>
<path d="M19.00,433 L19.50,432.40 L19.65,431 L20.35,431 L20.50,432.40 L21.00,433 Z" fill="url(#gG)"/>
<path d="M32.00,433 L32.50,431.74 L32.65,428.8 L33.35,428.8 L33.50,431.74 L34.00,433 Z" fill="url(#gG)"/>
<path d="M44.50,433 L45.00,431.20 L45.15,427 L45.85,427 L46.00,431.20 L46.50,433 Z" fill="url(#gG)"/>
<path d="M59.30,433 L59.80,431.74 L59.95,428.8 L60.65,428.8 L60.80,431.74 L61.30,433 Z" fill="url(#gG)"/>
<path d="M72.40,433 L72.90,429.16 L73.05,420.2 L73.75,420.2 L73.90,429.16 L74.40,433 Z" fill="url(#gG)"/>
<path d="M203.00,433 L203.50,432.40 L203.65,431 L204.35,431 L204.50,432.40 L205.00,433 Z" fill="url(#gG)"/>
<path d="M211.30,433 L211.80,432.10 L211.95,430 L212.65,430 L212.80,432.10 L213.30,433 Z" fill="url(#gG)"/>
<path d="M216.70,433 L217.20,425.29 L217.35,407.3 L218.05,407.3 L218.20,425.29 L218.70,433 Z" fill="url(#gG)"/>
<path d="M219.00,433 L219.50,430.60 L219.65,425 L220.35,425 L220.50,430.60 L221.00,433 Z" fill="url(#gG)"/>
<path d="M247.70,433 L248.20,431.50 L248.35,428 L249.05,428 L249.20,431.50 L249.70,433 Z" fill="url(#gG)"/>
<path d="M250.70,433 L251.20,421.42 L251.35,394.4 L252.05,394.4 L252.20,421.42 L252.70,433 Z" fill="url(#gG)"/>
<path d="M266.50,433 L267.00,432.10 L267.15,430 L267.85,430 L268.00,432.10 L268.50,433 Z" fill="url(#gG)"/>
<path d="M270.50,433 L271.00,429.52 L271.15,421.4 L271.85,421.4 L272.00,429.52 L272.50,433 Z" fill="url(#gG)"/>
<path d="M277.00,433 L277.50,432.10 L277.65,430 L278.35,430 L278.50,432.10 L279.00,433 Z" fill="url(#gG)"/>
<path d="M288.80,433 L289.30,432.40 L289.45,431 L290.15,431 L290.30,432.40 L290.80,433 Z" fill="url(#gG)"/>
<path d="M292.00,433 L292.50,432.55 L292.65,431.5 L293.35,431.5 L293.50,432.55 L294.00,433 Z" fill="url(#gG)"/>
<path d="M19.00,471.3 L19.50,470.61 L19.65,469 L20.35,469 L20.50,470.61 L21.00,471.3 Z" fill="url(#gB)"/>
<path d="M34.50,471.3 L35.00,469.80 L35.15,466.3 L35.85,466.3 L36.00,469.80 L36.50,471.3 Z" fill="url(#gB)"/>
<path d="M38.75,471.3 L39.25,469.80 L39.40,466.3 L40.10,466.3 L40.25,469.80 L40.75,471.3 Z" fill="url(#gB)"/>
<path d="M49.00,471.3 L49.50,470.61 L49.65,469 L50.35,469 L50.50,470.61 L51.00,471.3 Z" fill="url(#gB)"/>
<path d="M59.00,471.3 L59.50,470.61 L59.65,469 L60.35,469 L60.50,470.61 L61.00,471.3 Z" fill="url(#gB)"/>
<path d="M68.00,471.3 L68.50,470.61 L68.65,469 L69.35,469 L69.50,470.61 L70.00,471.3 Z" fill="url(#gB)"/>
<path d="M72.00,471.3 L72.50,463.80 L72.65,446.3 L73.35,446.3 L73.50,463.80 L74.00,471.3 Z" fill="url(#gB)"/>
<path d="M84.50,471.3 L85.00,468.81 L85.15,463 L85.85,463 L86.00,468.81 L86.50,471.3 Z" fill="url(#gB)"/>
<path d="M86.50,471.3 L87.00,469.71 L87.15,466 L87.85,466 L88.00,469.71 L88.50,471.3 Z" fill="url(#gB)"/>
<path d="M93.50,471.3 L94.00,459.66 L94.15,432.5 L94.85,432.5 L95.00,459.66 L95.50,471.3 Z" fill="url(#gB)"/>
<path d="M124.50,471.3 L125.00,469.04 L125.15,463.75 L125.85,463.75 L126.00,469.04 L126.50,471.3 Z" fill="url(#gB)"/>
<path d="M139.00,471.3 L139.50,470.61 L139.65,469 L140.35,469 L140.50,470.61 L141.00,471.3 Z" fill="url(#gB)"/>
<path d="M159.00,471.3 L159.50,470.61 L159.65,469 L160.35,469 L160.50,470.61 L161.00,471.3 Z" fill="url(#gB)"/>
<path d="M180.60,471.3 L181.10,470.31 L181.25,468 L181.95,468 L182.10,470.31 L182.60,471.3 Z" fill="url(#gB)"/>
<path d="M202.70,471.3 L203.20,469.53 L203.35,465.4 L204.05,465.4 L204.20,469.53 L204.70,471.3 Z" fill="url(#gB)"/>
<path d="M216.00,471.3 L216.50,470.31 L216.65,468 L217.35,468 L217.50,470.31 L218.00,471.3 Z" fill="url(#gB)"/>
<path d="M239.00,471.3 L239.50,470.61 L239.65,469 L240.35,469 L240.50,470.61 L241.00,471.3 Z" fill="url(#gB)"/>
<path d="M254.00,471.3 L254.50,470.61 L254.65,469 L255.35,469 L255.50,470.61 L256.00,471.3 Z" fill="url(#gB)"/>
<path d="M284.00,471.3 L284.50,470.61 L284.65,469 L285.35,469 L285.50,470.61 L286.00,471.3 Z" fill="url(#gB)"/>
<path d="M299.00,471.3 L299.50,470.61 L299.65,469 L300.35,469 L300.50,470.61 L301.00,471.3 Z" fill="url(#gB)"/>
<rect x="34.80" y="475" width="1.4" height="4.5" fill="#20208a"/>
<rect x="39.05" y="475" width="1.4" height="4.5" fill="#20208a"/>
<rect x="93.80" y="475" width="1.4" height="4.5" fill="#20208a"/>
<rect x="124.80" y="475" width="1.4" height="4.5" fill="#20208a"/>
<rect x="180.90" y="475" width="1.4" height="4.5" fill="#20208a"/>
<rect x="203.00" y="475" width="1.4" height="4.5" fill="#20208a"/>
<rect x="44.30" y="471.5" width="1.4" height="4.0" fill="#2f7a2f"/>
<rect x="216.50" y="471.5" width="1.4" height="4.0" fill="#2f7a2f"/>
<rect x="251.00" y="471.5" width="1.4" height="4.0" fill="#2f7a2f"/>
<rect x="270.90" y="471.5" width="1.4" height="4.0" fill="#2f7a2f"/>
<rect x="72.20" y="480.7" width="1.6" height="3.8000000000000114" fill="#f0a040"/>
<text x="191.3" y="497.5" font-size="16" fill="#000" text-anchor="start" font-weight="normal" font-style="normal" stroke="#000" stroke-width="0.25" >Kit</text>
<line x1="211.3" y1="492.5" x2="311" y2="492.5" stroke="#000" stroke-width="1.4"/>
<line x1="212.5" y1="489" x2="212.5" y2="496" stroke="#777" stroke-width="0.7"/>
<line x1="215.1" y1="489" x2="215.1" y2="496" stroke="#777" stroke-width="0.7"/>
<line x1="217.7" y1="489" x2="217.7" y2="496" stroke="#777" stroke-width="0.7"/>
<line x1="220.3" y1="489" x2="220.3" y2="496" stroke="#777" stroke-width="0.7"/>
<line x1="222.9" y1="489" x2="222.9" y2="496" stroke="#777" stroke-width="0.7"/>
<line x1="225.5" y1="489" x2="225.5" y2="496" stroke="#777" stroke-width="0.7"/>
<line x1="228.1" y1="489" x2="228.1" y2="496" stroke="#777" stroke-width="0.7"/>
<line x1="230.7" y1="489" x2="230.7" y2="496" stroke="#777" stroke-width="0.7"/>
<line x1="233.3" y1="489" x2="233.3" y2="496" stroke="#777" stroke-width="0.7"/>
<line x1="235.9" y1="489" x2="235.9" y2="496" stroke="#777" stroke-width="0.7"/>
<line x1="238.5" y1="489" x2="238.5" y2="496" stroke="#777" stroke-width="0.7"/>
<line x1="241.1" y1="489" x2="241.1" y2="496" stroke="#777" stroke-width="0.7"/>
<line x1="243.7" y1="489" x2="243.7" y2="496" stroke="#777" stroke-width="0.7"/>
<line x1="246.3" y1="489" x2="246.3" y2="496" stroke="#777" stroke-width="0.7"/>
<line x1="248.9" y1="489" x2="248.9" y2="496" stroke="#777" stroke-width="0.7"/>
<line x1="251.5" y1="489" x2="251.5" y2="496" stroke="#777" stroke-width="0.7"/>
<line x1="254.1" y1="489" x2="254.1" y2="496" stroke="#777" stroke-width="0.7"/>
<line x1="256.7" y1="489" x2="256.7" y2="496" stroke="#777" stroke-width="0.7"/>
<line x1="259.3" y1="489" x2="259.3" y2="496" stroke="#777" stroke-width="0.7"/>
<line x1="261.9" y1="489" x2="261.9" y2="496" stroke="#777" stroke-width="0.7"/>
<line x1="264.5" y1="489" x2="264.5" y2="496" stroke="#777" stroke-width="0.7"/>
<line x1="267.1" y1="489" x2="267.1" y2="496" stroke="#777" stroke-width="0.7"/>
<line x1="269.7" y1="489" x2="269.7" y2="496" stroke="#777" stroke-width="0.7"/>
<line x1="272.3" y1="489" x2="272.3" y2="496" stroke="#777" stroke-width="0.7"/>
<line x1="274.9" y1="489" x2="274.9" y2="496" stroke="#777" stroke-width="0.7"/>
<line x1="277.5" y1="489" x2="277.5" y2="496" stroke="#777" stroke-width="0.7"/>
<line x1="280.1" y1="489" x2="280.1" y2="496" stroke="#777" stroke-width="0.7"/>
<line x1="282.7" y1="489" x2="282.7" y2="496" stroke="#777" stroke-width="0.7"/>
<line x1="285.3" y1="489" x2="285.3" y2="496" stroke="#777" stroke-width="0.7"/>
<line x1="287.9" y1="489" x2="287.9" y2="496" stroke="#777" stroke-width="0.7"/>
<line x1="290.5" y1="489" x2="290.5" y2="496" stroke="#777" stroke-width="0.7"/>
<line x1="293.1" y1="489" x2="293.1" y2="496" stroke="#777" stroke-width="0.7"/>
<line x1="295.7" y1="489" x2="295.7" y2="496" stroke="#777" stroke-width="0.7"/>
<line x1="298.3" y1="489" x2="298.3" y2="496" stroke="#777" stroke-width="0.7"/>
<line x1="300.9" y1="489" x2="300.9" y2="496" stroke="#777" stroke-width="0.7"/>
<line x1="303.5" y1="489" x2="303.5" y2="496" stroke="#777" stroke-width="0.7"/>
<line x1="306.1" y1="489" x2="306.1" y2="496" stroke="#777" stroke-width="0.7"/>
<line x1="308.7" y1="489" x2="308.7" y2="496" stroke="#777" stroke-width="0.7"/>
<line x1="250.5" y1="486.5" x2="250.5" y2="498" stroke="#222" stroke-width="0.9"/>
<line x1="252.5" y1="486.5" x2="252.5" y2="498" stroke="#222" stroke-width="0.9"/>
<line x1="255" y1="486.5" x2="255" y2="498" stroke="#222" stroke-width="0.9"/>
<line x1="260" y1="486.5" x2="260" y2="498" stroke="#222" stroke-width="0.9"/>
<line x1="265.5" y1="486.5" x2="265.5" y2="498" stroke="#222" stroke-width="0.9"/>
<line x1="271.25" y1="486.5" x2="271.25" y2="498" stroke="#222" stroke-width="0.9"/>
<line x1="273.75" y1="486.5" x2="273.75" y2="498" stroke="#222" stroke-width="0.9"/>
<line x1="290.5" y1="486.5" x2="290.5" y2="498" stroke="#222" stroke-width="0.9"/>
<line x1="292" y1="486.5" x2="292" y2="498" stroke="#222" stroke-width="0.9"/>
<line x1="296.25" y1="486.5" x2="296.25" y2="498" stroke="#222" stroke-width="0.9"/>
<line x1="300" y1="486.5" x2="300" y2="498" stroke="#222" stroke-width="0.9"/>
<line x1="302.5" y1="486.5" x2="302.5" y2="498" stroke="#222" stroke-width="0.9"/>
<line x1="306.25" y1="486.5" x2="306.25" y2="498" stroke="#222" stroke-width="0.9"/>
<rect x="308.7" y="487" width="2.6" height="10" fill="#000"/>
<text x="323.2" y="364.0" font-size="17.5" fill="#000" text-anchor="start" font-weight="bold" font-style="normal" >G</text>
<line x1="366.3" y1="380.1" x2="514.1" y2="380.1" stroke="#8a8a8a" stroke-width="1.6"/>
<line x1="362.8" y1="380.1" x2="366.3" y2="380.1" stroke="#000" stroke-width="1.4"/>
<line x1="366.3" y1="417.1" x2="514.1" y2="417.1" stroke="#8a8a8a" stroke-width="1.6"/>
<line x1="362.8" y1="417.1" x2="366.3" y2="417.1" stroke="#000" stroke-width="1.4"/>
<line x1="366.3" y1="453.9" x2="514.1" y2="453.9" stroke="#8a8a8a" stroke-width="1.6"/>
<line x1="362.8" y1="453.9" x2="366.3" y2="453.9" stroke="#000" stroke-width="1.4"/>
<line x1="366.3" y1="490.5" x2="514.1" y2="490.5" stroke="#8a8a8a" stroke-width="1.6"/>
<line x1="362.8" y1="490.5" x2="366.3" y2="490.5" stroke="#000" stroke-width="1.4"/>
<line x1="366.3" y1="379.5" x2="366.3" y2="491" stroke="#000" stroke-width="1.4"/>
<text x="355" y="384.6" font-size="10" fill="#000" text-anchor="end" font-weight="normal" font-style="italic" stroke="#000" stroke-width="0.25" >100</text>
<text x="355" y="421.6" font-size="10" fill="#000" text-anchor="end" font-weight="normal" font-style="italic" stroke="#000" stroke-width="0.25" >10</text>
<text x="355" y="458.4" font-size="10" fill="#000" text-anchor="end" font-weight="normal" font-style="italic" stroke="#000" stroke-width="0.25" >1</text>
<text x="353.5" y="495.0" font-size="10" fill="#000" text-anchor="end" font-weight="normal" font-style="italic" stroke="#000" stroke-width="0.25" >0.1</text>
<rect x="377.8" y="453.9" width="14.399999999999977" height="27.30000000000001" fill="#000"/>
<line x1="385.0" y1="481.2" x2="385.0" y2="484.3" stroke="#000" stroke-width="0.9"/>
<line x1="383.8" y1="484.3" x2="386.2" y2="484.3" stroke="#000" stroke-width="0.9"/>
<rect x="414.2" y="453.9" width="15.100000000000023" height="12.700000000000045" fill="#000"/>
<line x1="421.75" y1="466.6" x2="421.75" y2="469.7" stroke="#000" stroke-width="0.9"/>
<line x1="420.55" y1="469.7" x2="422.95" y2="469.7" stroke="#000" stroke-width="0.9"/>
<rect x="451.25" y="425.4" width="15.050000000000011" height="28.5" fill="#000"/>
<line x1="458.775" y1="422.9" x2="458.775" y2="425.4" stroke="#000" stroke-width="0.9"/>
<line x1="457.575" y1="422.9" x2="459.97499999999997" y2="422.9" stroke="#000" stroke-width="0.9"/>
<rect x="488" y="385.4" width="15.399999999999977" height="68.5" fill="#000"/>
<line x1="495.7" y1="383" x2="495.7" y2="385.4" stroke="#000" stroke-width="0.9"/>
<line x1="494.5" y1="383" x2="496.9" y2="383" stroke="#000" stroke-width="0.9"/>
<text x="385.7" y="504.4" font-size="14" fill="#000" text-anchor="middle" font-weight="normal" font-style="italic" stroke="#000" stroke-width="0.25" >Cpa3</text>
<text x="420.5" y="504.4" font-size="14" fill="#000" text-anchor="middle" font-weight="normal" font-style="italic" stroke="#000" stroke-width="0.25" >Kit</text>
<text x="457.8" y="504.4" font-size="14.8" fill="#000" text-anchor="middle" font-weight="normal" font-style="italic" stroke="#000" stroke-width="0.25" >Thbs1</text>
<text x="494" y="504.4" font-size="14.3" fill="#000" text-anchor="middle" font-weight="normal" font-style="italic" stroke="#000" stroke-width="0.25" >Vwf</text>
<text transform="translate(335.4,436.8) rotate(-90)" font-size="7.4" font-style="italic" text-anchor="middle" fill="#222" stroke="#222" stroke-width="0.15">Relative Expression (GATA1/MIGR1)</text>
</svg></body></html>
